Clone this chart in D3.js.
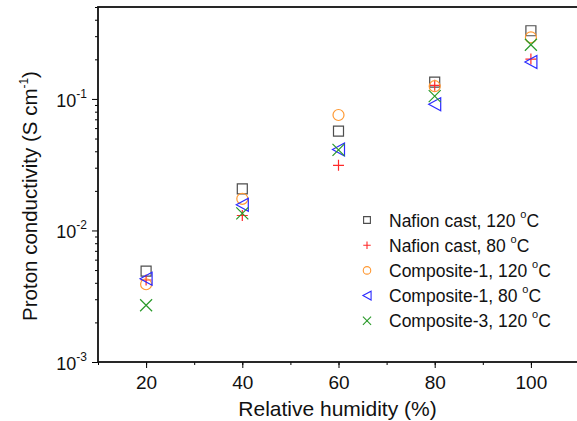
<!DOCTYPE html>
<html>
<head>
<meta charset="utf-8">
<script src="https://cdn.jsdelivr.net/npm/d3@7"></script>
<style>
  body { margin: 0; background: #fff; }
  svg { display: block; font-family: "Liberation Sans", Arial, sans-serif; }
</style>
</head>
<body>
<div id="chart"></div>
<script>
// relative humidity (%)
var humidity = [20, 40, 60, 80, 100];

// proton conductivity (S/cm)
var nafion120 = [0.0049, 0.0207, 0.057, 0.134, 0.330];
var nafion80 = [0.0042, 0.0130, 0.0313, 0.127, 0.201];
var comp1_120 = [0.0039, 0.0174, 0.0755, 0.125, 0.294];
var comp1_80 = [0.0043, 0.0157, 0.0413, 0.0912, 0.191];
var comp3_120 = [0.0027, 0.0135, 0.0410, 0.105, 0.258];

var seriesNames = ["Nafion cast, 120 ", "Nafion cast, 80 ", "Composite-1, 120 ", "Composite-1, 80 ", "Composite-3, 120 "];
var xTicks = [20, 40, 60, 80, 100];
var yMajor = [1e-3, 1e-2, 1e-1];

var series = [
    { name: seriesNames[0], values: nafion120, shape: "square", color: "#4d4d4d" },
    { name: seriesNames[1], values: nafion80, shape: "plus", color: "#ff2a2a" },
    { name: seriesNames[2], values: comp1_120, shape: "circle", color: "#ff9933" },
    { name: seriesNames[3], values: comp1_80, shape: "triangle", color: "#2b2bff" },
    { name: seriesNames[4], values: comp3_120, shape: "cross", color: "#2a9a2a" }
];

var margin = { top: 7, right: 0, bottom: 59, left: 98 },
    width = 481,
    height = 355;

var svg = d3.select("#chart").append("svg")
    .attr("width", 577)
    .attr("height", 421);

var canvas = svg.append("g")
    .attr("transform", "translate(" + margin.left + "," + margin.top + ")");

var xScale = d3.scaleLinear().domain([10, 110]).range([0, width]);
var yScale = d3.scaleLog().domain([1e-3, 0.5]).range([height, 0]);

// marker outlines, centered on 0,0; k scales them
function shapePath(shape, k) {
    var p = d3.path();
    if (shape == "square") {
        var s = 5 * k;
        p.rect(-s, -s, 2 * s, 2 * s);
    } else if (shape == "plus") {
        var a = 5.5 * k;
        p.moveTo(-a, 0); p.lineTo(a, 0);
        p.moveTo(0, -a); p.lineTo(0, a);
    } else if (shape == "circle") {
        var r = 5.5 * k;
        p.moveTo(r, 0);
        p.arc(0, 0, r, 0, 2 * Math.PI);
    } else if (shape == "triangle") {
        p.moveTo(-6 * k, 0);
        p.lineTo(6 * k, -6.5 * k);
        p.lineTo(6 * k, 6.5 * k);
        p.closePath();
    } else {
        var c = 6 * k;
        p.moveTo(-c, -c); p.lineTo(c, c);
        p.moveTo(-c, c); p.lineTo(c, -c);
    }
    return p.toString();
}

// minor ticks (every 10 on x, 2..9 per decade on y)
var xMinor = d3.range(10, 111, 10);
var yMinor = [];
[1e-3, 1e-2, 1e-1].forEach(function (d) {
    for (var i = 2; i <= 9; i++) {
        if (d * i <= 0.5) yMinor.push(d * i);
    }
});

canvas.append("g")
    .attr("transform", "translate(0," + height + ")")
    .call(d3.axisBottom(xScale).tickValues(xMinor).tickSize(3).tickFormat(""))
    .call(g => g.select(".domain").remove());

canvas.append("g")
    .call(d3.axisLeft(yScale).tickValues(yMinor).tickSize(3).tickFormat(""))
    .call(g => g.select(".domain").remove());

// major x ticks
var xAxis = canvas.append("g")
    .attr("transform", "translate(0," + height + ")")
    .call(d3.axisBottom(xScale).tickValues(xTicks).tickSize(6).tickPadding(8))
    .call(g => g.select(".domain").remove());
xAxis.selectAll("text")
    .attr("font-size", 19)
    .attr("fill", "#111")
    .attr("font-family", "Liberation Sans, Arial, sans-serif");

// major y ticks, labels as 10^n
var yAxis = canvas.append("g")
    .call(d3.axisLeft(yScale).tickValues(yMajor).tickSize(6).tickFormat(""))
    .call(g => g.select(".domain").remove());
yAxis.selectAll(".tick").each(function (d) {
    var t = d3.select(this).append("text")
        .attr("x", -11)
        .attr("y", 7.5)
        .attr("fill", "#111")
        .attr("text-anchor", "end")
        .attr("font-size", 18)
        .attr("font-family", "Liberation Sans, Arial, sans-serif");
    t.append("tspan").text("10");
    t.append("tspan")
        .attr("font-size", 12)
        .attr("dy", -9)
        .text(Math.round(Math.log10(d)));
});

// frame
canvas.append("rect")
    .attr("width", width)
    .attr("height", height)
    .attr("fill", "none")
    .attr("stroke", "#111")
    .attr("stroke-width", 1.8);

// data points
series.forEach(function (s) {
    canvas.append("g").selectAll("path")
        .data(s.values)
        .enter().append("path")
        .attr("transform", function (d, i) {
            return "translate(" + xScale(humidity[i]) + "," + yScale(d) + ")";
        })
        .attr("d", shapePath(s.shape, 1))
        .attr("fill", "none")
        .attr("stroke", s.color)
        .attr("stroke-width", 1.2);
});

// legend
var legend = canvas.append("g")
    .attr("transform", "translate(" + (367 - margin.left) + "," + (220 - margin.top) + ")");
series.forEach(function (s, i) {
    var row = legend.append("g").attr("transform", "translate(0," + (i * 25.2) + ")");
    row.append("path")
        .attr("d", shapePath(s.shape, 0.68))
        .attr("fill", "none")
        .attr("stroke", s.color)
        .attr("stroke-width", 1.1);
    var t = row.append("text")
        .attr("x", 22)
        .attr("y", 6.5)
        .attr("font-size", 17.5)
        .attr("fill", "#111");
    t.append("tspan").text(s.name);
    t.append("tspan").attr("font-size", 11).attr("dy", -9).text("o");
    t.append("tspan").attr("dy", 9).text("C");
});

// axis titles
svg.append("text")
    .attr("x", margin.left + width / 2 - 1)
    .attr("y", 416)
    .attr("text-anchor", "middle")
    .attr("font-size", 21)
    .attr("fill", "#111")
    .text("Relative humidity (%)");

var yTitle = svg.append("text")
    .attr("transform", "translate(36.5,196) rotate(-90)")
    .attr("text-anchor", "middle")
    .attr("font-size", 20.5)
    .attr("fill", "#111");
yTitle.append("tspan").text("Proton conductivity (S cm");
yTitle.append("tspan").attr("font-size", 12).attr("dy", -9).text("-1");
yTitle.append("tspan").attr("dy", 9).text(")");
</script>
</body>
</html>
